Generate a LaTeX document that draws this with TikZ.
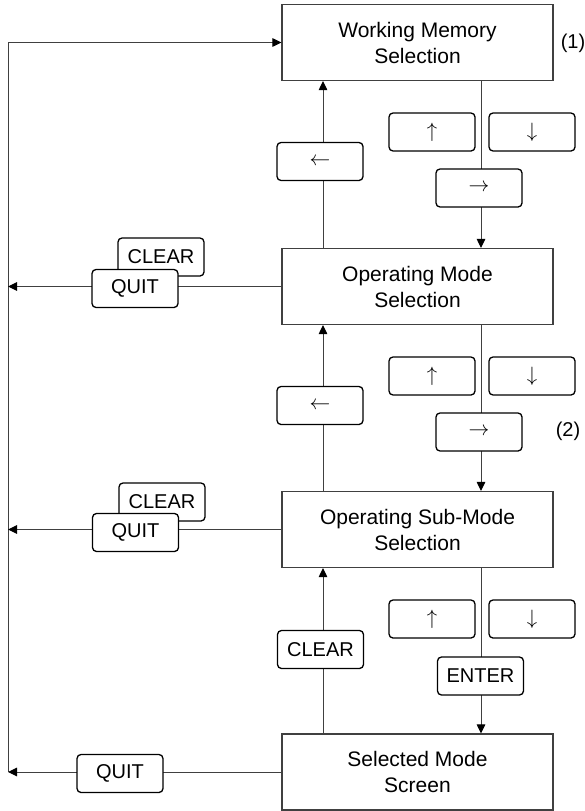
\documentclass[tikz,border=0pt]{standalone}
\usepackage{fontspec}
\setmainfont{Liberation Sans}
\usetikzlibrary{arrows.meta}
\begin{document}
\begin{tikzpicture}[x=1pt,y=-1pt,
  screen/.style={draw=black!75, line width=1.1pt, minimum width=271pt,
    minimum height=76pt, align=center, inner sep=0pt,
    font=\fontsize{21}{26}\selectfont},
  key/.style={draw=black, line width=1.3pt, rounded corners=4pt, fill=white,
    minimum width=86pt, minimum height=38pt, inner sep=0pt,
    font=\fontsize{20}{24}\selectfont},
  link/.style={draw=black!75, line width=1pt},
  flow/.style={link, -{Triangle[length=9pt,width=8.5pt,color=black]}},
  tag/.style={inner sep=0pt, font=\fontsize{20}{24}\selectfont}]
\useasboundingbox (0,0) rectangle (585,811);

% screens
\node[screen] (wm)  at (417.5,42.5) {Working Memory\\Selection};
\node[screen] (om)  at (417.5,286.5) {Operating Mode\\Selection};
\node[screen] (osm) at (417.5,529.5) {Operating Sub-Mode\\Selection};
\node[screen] (sel) at (417.5,772) {Selected Mode\\Screen};

\node[tag] (n1) at (573,43) {(1)};
\node[tag] (n2) at (568,431) {(2)};

% vertical guides for the forward and backward paths
\coordinate (rail) at (8,0);
\coordinate (dn) at (481,0);
\coordinate (up) at (323,0);

% return rail on the left
\draw[flow] (sel.west -| rail) |- (wm.west);
\draw[flow] (om.west) -- (om.west -| rail);
\draw[flow] (osm.west) -- (osm.west -| rail);
\draw[flow] (sel.west) -- (sel.west -| rail);

% forward / backward connectors
\draw[flow] (wm.south -| dn) -- (om.north -| dn);
\draw[flow] (om.north -| up) -- (wm.south -| up);
\draw[flow] (om.south -| dn) -- (osm.north -| dn);
\draw[flow] (osm.north -| up) -- (om.south -| up);
\draw[flow] (osm.south -| dn) -- (sel.north -| dn);
\draw[flow] (sel.north -| up) -- (osm.south -| up);

% keys between Working Memory and Operating Mode
\node[key] (u1) at (432,132) {$\uparrow$};
\node[key] (d1) at (532,132) {$\downarrow$};
\node[key] (r1) at (479,188) {$\rightarrow$};
\node[key] (l1) at (320,161.5) {$\leftarrow$};

% keys between Operating Mode and Operating Sub-Mode
\node[key] (u2) at (432,376) {$\uparrow$};
\node[key] (d2) at (532,376) {$\downarrow$};
\node[key] (r2) at (479,432) {$\rightarrow$};
\node[key] (l2) at (320,405.5) {$\leftarrow$};

% keys between Operating Sub-Mode and Selected Mode
\node[key] (u3) at (432,619) {$\uparrow$};
\node[key] (d3) at (532,619) {$\downarrow$};
\node[key] (e3) at (480.5,676) {ENTER};
\node[key] (c3) at (320.5,649.5) {CLEAR};

% keys on the return paths
\node[key] (cl2) at (161,257) {CLEAR};
\node[key] (q2)  at (135,288.5) {QUIT};
\node[key] (cl3) at (162,502) {CLEAR};
\node[key] (q3)  at (135.5,532.5) {QUIT};
\node[key] (q4)  at (120,773.5) {QUIT};
\end{tikzpicture}
\end{document}
